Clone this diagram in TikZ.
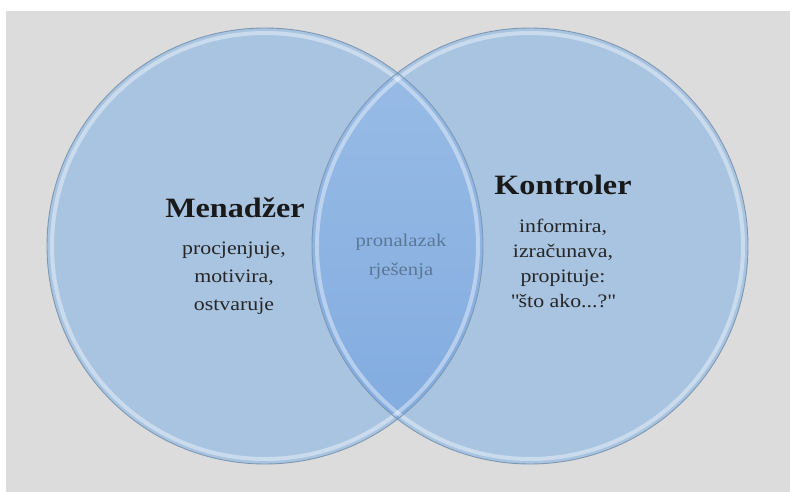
\documentclass[tikz,border=0pt]{standalone}
\usepackage{fontspec}
\setmainfont[FakeStretch=1.15]{Liberation Serif}
\definecolor{bggray}{HTML}{DCDCDC}
\definecolor{vennfill}{HTML}{A8C4E1}
\definecolor{lenstop}{HTML}{9ABDE6}
\definecolor{lensbot}{HTML}{80AADF}
\definecolor{vennrim}{HTML}{7F98B2}
\definecolor{solgray}{HTML}{5B7896}
\tikzset{
  vennrim/.style={draw=vennrim, line width=0.9pt},
  vennglow/.style={draw=white, draw opacity=0.4, line width=4pt},
  title/.style={font=\fontsize{28}{32}\selectfont\bfseries, text=black!90},
  body/.style={font=\fontsize{19}{28}\selectfont, align=center, text=black!85},
}
\begin{document}
\begin{tikzpicture}[x=1pt, y=-1pt]
      \useasboundingbox (0,0) rectangle (790,492);
      \fill[white] (0,0) rectangle (790,492);
      \fill[bggray] (6,11) rectangle (790,492);
      \fill[vennfill] (265,246) circle (218);
      \fill[vennfill] (530,246) circle (218);
      \begin{scope}
        \clip (265,246) circle (218);
        \shade[top color=lenstop, bottom color=lensbot] (530,246) circle (218);
      \end{scope}
      \draw[vennglow] (265,246) circle (213);
      \draw[vennglow] (530,246) circle (213);
      \draw[vennrim] (265,246) circle (218);
      \draw[vennrim] (530,246) circle (218);
      \node[title] (mgr) at (235, 208) {Menadžer};
      \node[body] (mgrtxt) at (234, 278) {procjenjuje,\\motivira,\\ostvaruje};
      \node[title] (ctl) at (563, 185) {Kontroler};
      \node[body, font=\fontsize{19}{25}\selectfont] (ctltxt) at (563, 263) {informira,\\izračunava,\\propituje:\\\textquotedbl{}što ako...?\textquotedbl};
      \node[body, font=\fontsize{18}{29}\selectfont, text=solgray] (sol) at (401, 257) {pronalazak\\rješenja};
\end{tikzpicture}
\end{document}
